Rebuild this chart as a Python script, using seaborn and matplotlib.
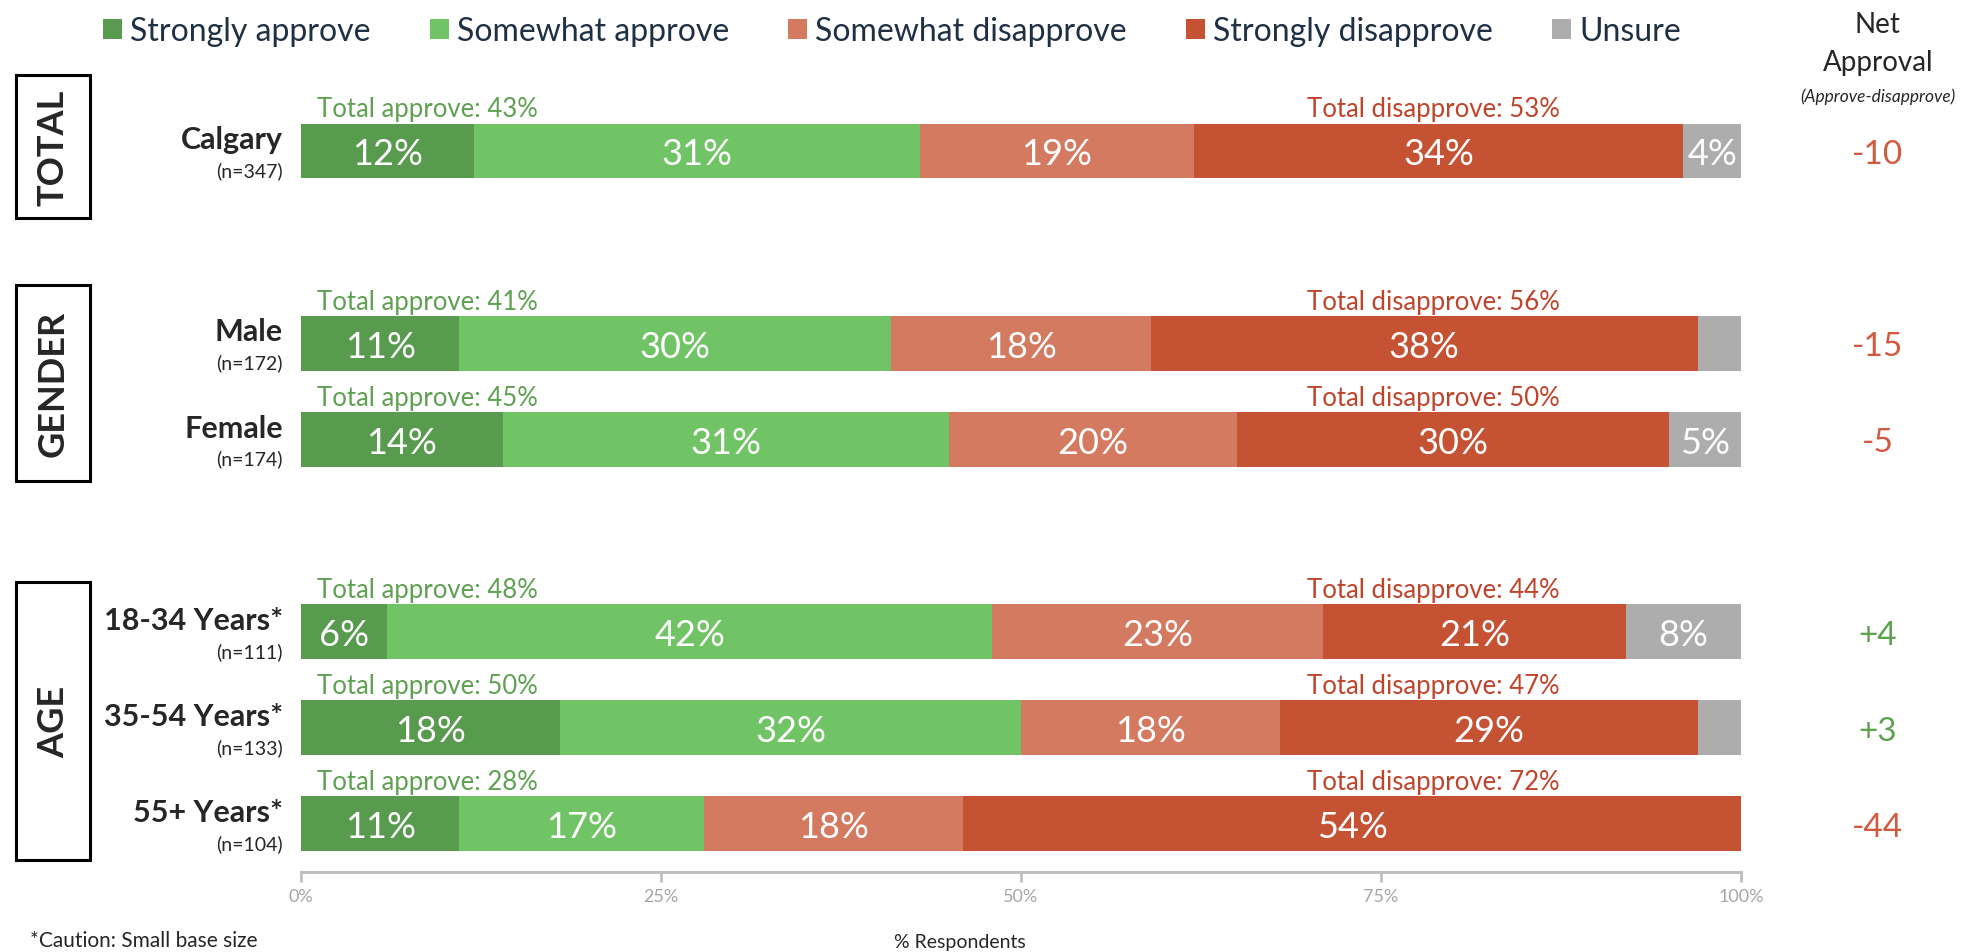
import pandas as pd
import matplotlib.pyplot as plt
import matplotlib.transforms as mtransforms
import seaborn as sns
from matplotlib.patches import Patch, Rectangle

# Datos
groups = ["Calgary", "Male", "Female", "18-34 Years*", "35-54 Years*", "55+ Years*"]
base_sizes = ["(n=347)", "(n=172)", "(n=174)", "(n=111)", "(n=133)", "(n=104)"]
positions = [0, 2, 3, 5, 6, 7]

strongly_approve = [12, 11, 14, 6, 18, 11]
somewhat_approve = [31, 30, 31, 42, 32, 17]
somewhat_disapprove = [19, 18, 20, 23, 18, 18]
strongly_disapprove = [34, 38, 30, 21, 29, 54]
unsure = [4, 3, 5, 8, 3, 0]

segments = ["Strongly approve", "Somewhat approve", "Somewhat disapprove",
            "Strongly disapprove", "Unsure"]
colors = ["#589B4F", "#70C465", "#D47A60", "#C65234", "#ADADAD"]

section_names = ["TOTAL", "GENDER", "AGE"]
section_spans = [(-0.79, 0.70), (1.39, 3.43), (4.48, 7.37)]

df = pd.DataFrame({
    "group": groups,
    "pos": positions,
    "Strongly approve": strongly_approve,
    "Somewhat approve": somewhat_approve,
    "Somewhat disapprove": somewhat_disapprove,
    "Strongly disapprove": strongly_disapprove,
    "Unsure": unsure,
})
cum = df[segments].cumsum(axis=1)
df["approve"] = df["Strongly approve"] + df["Somewhat approve"]
df["disapprove"] = df["Somewhat disapprove"] + df["Strongly disapprove"]
df["net"] = df["approve"] - df["disapprove"]

sns.set_style("white")
plt.rcParams["font.family"] = ["Lato", "DejaVu Sans"]

fig = plt.figure(figsize=(19.65, 9.53), dpi=100)
ax = fig.add_axes([301 / 1965, 1 - 873 / 953, 1440 / 1965, 870 / 953])

# Barras apiladas (acumuladas, de mayor a menor)
for seg, col in reversed(list(zip(segments, colors))):
    sns.barplot(x=cum[seg], y=df["pos"], orient="h", native_scale=True,
                color=col, saturation=1, width=0.572, errorbar=None,
                linewidth=0, ax=ax)

ax.set_xlim(0, 100)
ax.set_ylim(7.5, -1.55)
ax.set_xlabel("")
ax.set_ylabel("")
ax.set_yticks([])
ax.set_xticks([0, 25, 50, 75, 100])
ax.set_xticklabels(["0%", "25%", "50%", "75%", "100%"])
for s in ["top", "left", "right"]:
    ax.spines[s].set_visible(False)
ax.spines["bottom"].set_color("#BFBFBF")
ax.spines["bottom"].set_linewidth(2.2)
ax.tick_params(axis="x", labelcolor="#A6A6A6", labelsize=13, pad=8)
for t in ax.xaxis.get_major_ticks():
    t.tick1line.set_visible(True)
    t.tick1line.set_markersize(7)
    t.tick1line.set_markeredgewidth(2)
    t.tick1line.set_color("#BFBFBF")
    t.tick1line.set_markeredgecolor("#BFBFBF")

blend = mtransforms.blended_transform_factory(ax.transAxes, ax.transData)

# Etiquetas dentro de las barras
for i, row in df.iterrows():
    start = 0
    for seg in segments:
        v = row[seg]
        if v >= 4:
            ax.text(start + v / 2, row["pos"] + 0.14, f"{v}%", color="white",
                    fontsize=26, ha="center", va="baseline")
        start += v
    ax.text(1.1, row["pos"] - 0.36, f"Total approve: {row['approve']}%",
            color="#5FA052", fontsize=18.5, ha="left", va="baseline")
    ax.text(87.4, row["pos"] - 0.36, f"Total disapprove: {row['disapprove']}%",
            color="#C0432A", fontsize=18.5, ha="right", va="baseline")
    ax.text(-0.0125, row["pos"] - 0.03, row["group"], transform=blend,
            fontsize=22, fontweight="bold", ha="right", va="baseline")
    ax.text(-0.0125, row["pos"] + 0.2, base_sizes[i], transform=blend,
            fontsize=14, ha="right", va="center")
    net = row["net"]
    ax.text(1.095, row["pos"] + 0.125, f"{net:+d}", transform=blend,
            color="#5DA251" if net > 0 else "#D2593F",
            fontsize=24, ha="center", va="baseline", clip_on=False)

# Encabezado de aprobacion neta
ax.text(1.095, -1.32, "Net", transform=blend, fontsize=20, ha="center", va="center")
ax.text(1.095, -0.93, "Approval", transform=blend, fontsize=20, ha="center", va="center")
ax.text(1.095, -0.57, "(Approve-disapprove)", transform=blend, fontsize=12.5,
        style="italic", ha="center", va="center")

# Cajas de secciones
for name, (y0, y1) in zip(section_names, section_spans):
    ax.add_patch(Rectangle((-0.198, y0), 0.0515, y1 - y0, transform=blend,
                           fill=False, lw=2.2, ec="black", clip_on=False))
    ax.text(-0.172, (y0 + y1) / 2, name, transform=blend, rotation=90,
            fontsize=26, fontweight="bold", ha="center", va="center")

# Leyenda
handles = [Patch(facecolor=c, edgecolor="none", label=s) for s, c in zip(segments, colors)]
fig.legend(handles=handles, loc="center", bbox_to_anchor=(0.454, 1 - 32 / 953),
           ncol=5, frameon=False, fontsize=23, handlelength=0.6, handleheight=0.6,
           handletextpad=0.25, columnspacing=1.85, labelcolor="#1F3044")

fig.text(960 / 1965, 1 - 943 / 953, "% Respondents", fontsize=14, ha="center", va="center")
fig.text(30 / 1965, 1 - 941 / 953, "*Caution: Small base size", fontsize=15,
         ha="left", va="center")

fig.savefig("out.png", dpi=100)
